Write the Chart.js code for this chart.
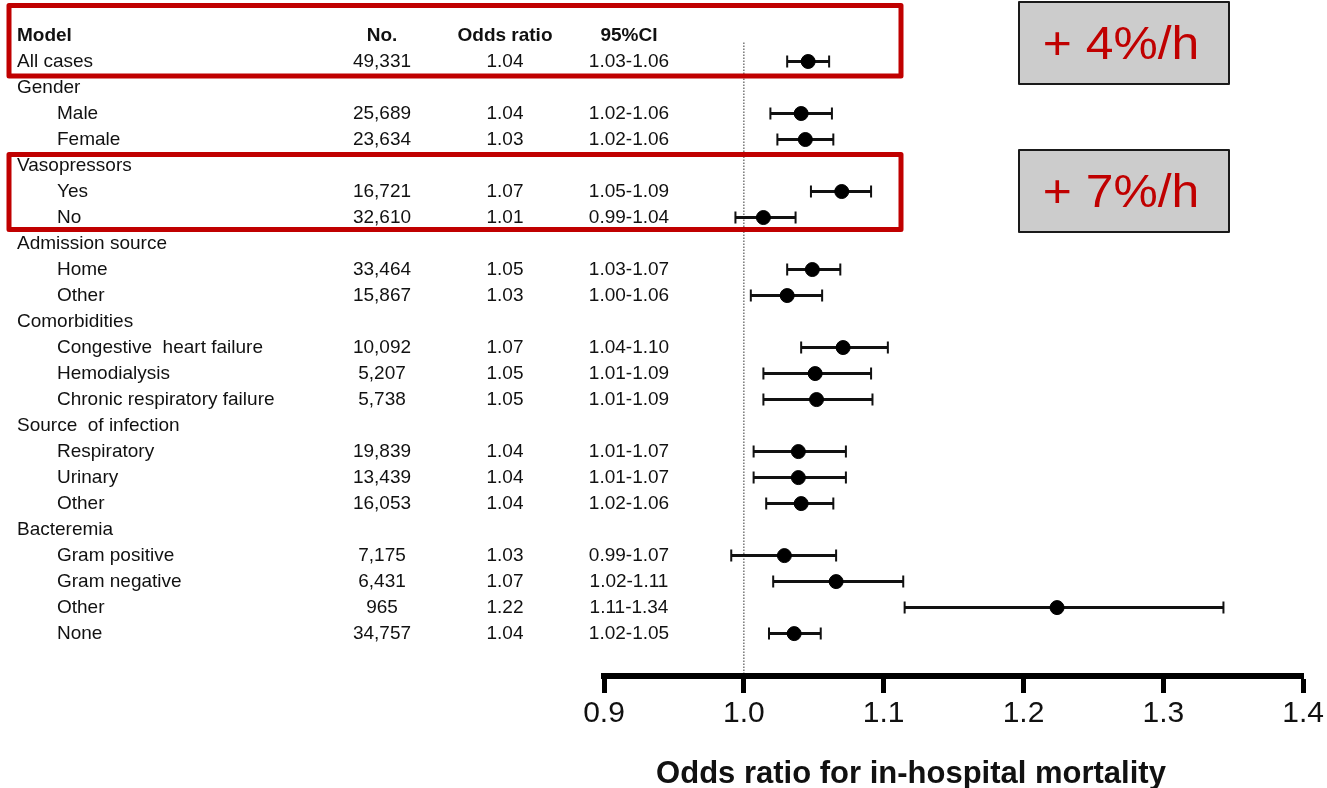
<!DOCTYPE html>
<html lang="en">
  <head>
    <meta charset="UTF-8" />
    <title>Odds ratio for in-hospital mortality</title>
    <style>
      body {
        margin: 0;
        padding: 0;
        background: #fff;
      }
      .chart {
        width: 1327px;
        height: 788px;
      }
    </style>
    <script src="https://cdn.jsdelivr.net/npm/chart.js"></script>
  </head>
  <body>
    <div class="chart">
      <canvas id="forest" width="1327" height="788"></canvas>
    </div>

    <script>
      // table columns
      const columnHeaders = ['Model', 'No.', 'Odds ratio', '95%CI'];

      // rows, top to bottom (level 0 = group / flush left, 1 = indented)
      const rowLabels = [
        'All cases', 'Gender', 'Male', 'Female', 'Vasopressors', 'Yes', 'No',
        'Admission source', 'Home', 'Other', 'Comorbidities',
        'Congestive  heart failure', 'Hemodialysis', 'Chronic respiratory failure',
        'Source  of infection', 'Respiratory', 'Urinary', 'Other',
        'Bacteremia', 'Gram positive', 'Gram negative', 'Other', 'None'
      ];
      const rowLevel = [0, 0, 1, 1, 0, 1, 1, 0, 1, 1, 0, 1, 1, 1, 0, 1, 1, 1, 0, 1, 1, 1, 1];

      const counts = [
        '49,331', null, '25,689', '23,634', null, '16,721', '32,610',
        null, '33,464', '15,867', null, '10,092', '5,207', '5,738',
        null, '19,839', '13,439', '16,053', null, '7,175', '6,431', '965', '34,757'
      ];
      const oddsText = [
        '1.04', null, '1.04', '1.03', null, '1.07', '1.01',
        null, '1.05', '1.03', null, '1.07', '1.05', '1.05',
        null, '1.04', '1.04', '1.04', null, '1.03', '1.07', '1.22', '1.04'
      ];
      const ciText = [
        '1.03-1.06', null, '1.02-1.06', '1.02-1.06', null, '1.05-1.09', '0.99-1.04',
        null, '1.03-1.07', '1.00-1.06', null, '1.04-1.10', '1.01-1.09', '1.01-1.09',
        null, '1.01-1.07', '1.01-1.07', '1.02-1.06', null, '0.99-1.07', '1.02-1.11', '1.11-1.34', '1.02-1.05'
      ];

      // plotted estimates and interval ends
      const estimate = [
        1.046, null, 1.041, 1.044, null, 1.070, 1.014,
        null, 1.049, 1.031, null, 1.071, 1.051, 1.052,
        null, 1.039, 1.039, 1.041, null, 1.029, 1.066, 1.224, 1.036
      ];
      const ciLow = [
        1.031, null, 1.019, 1.024, null, 1.048, 0.994,
        null, 1.031, 1.005, null, 1.041, 1.014, 1.014,
        null, 1.007, 1.007, 1.016, null, 0.991, 1.021, 1.115, 1.018
      ];
      const ciHigh = [
        1.061, null, 1.063, 1.064, null, 1.091, 1.037,
        null, 1.069, 1.056, null, 1.103, 1.091, 1.092,
        null, 1.073, 1.073, 1.064, null, 1.066, 1.114, 1.343, 1.055
      ];

      const xTicks = [0.9, 1.0, 1.1, 1.2, 1.3, 1.4];
      const xTitle = 'Odds ratio for in-hospital mortality';
      const callouts = ['+ 4%/h', '+ 7%/h'];

      const FONT = '"Liberation Sans", Arial, Helvetica, sans-serif';
      const INK = '#111';
      const RED = '#c00000';

      Chart.defaults.font.family = FONT;

      // row 0 holds the column headers, data rows start at 1
      const points = [];
      estimate.forEach((v, i) => {
        if (v !== null) points.push({ x: v, y: i + 1 });
      });

      // whiskers + dotted line at OR = 1
      const errorBars = {
        id: 'errorBars',
        beforeDatasetsDraw(chart) {
          const { ctx, scales: { x, y }, chartArea } = chart;
          ctx.save();
          // reference line
          const x1 = x.getPixelForValue(1.0);
          ctx.strokeStyle = '#777';
          ctx.lineWidth = 1.5;
          ctx.setLineDash([1.5, 1.5]);
          ctx.beginPath();
          ctx.moveTo(x1, chartArea.top + 20);
          ctx.lineTo(x1, chartArea.bottom - 3);
          ctx.stroke();
          ctx.setLineDash([]);

          ctx.strokeStyle = INK;
          ciLow.forEach((lo, i) => {
            if (lo === null) return;
            const py = y.getPixelForValue(i + 1);
            const a = x.getPixelForValue(lo);
            const b = x.getPixelForValue(ciHigh[i]);
            ctx.lineWidth = 3;
            ctx.beginPath();
            ctx.moveTo(a, py);
            ctx.lineTo(b, py);
            ctx.stroke();
            ctx.lineWidth = 2;
            ctx.beginPath();
            ctx.moveTo(a, py - 6);
            ctx.lineTo(a, py + 6);
            ctx.moveTo(b, py - 6);
            ctx.lineTo(b, py + 6);
            ctx.stroke();
          });
          ctx.restore();
        },
      };

      // left-hand table, drawn on the same row positions
      const table = {
        id: 'table',
        afterDraw(chart) {
          const { ctx, scales: { y } } = chart;
          const colNo = 382, colOr = 505, colCi = 629;
          ctx.save();
          ctx.fillStyle = INK;
          ctx.textBaseline = 'middle';

          let py = y.getPixelForValue(0);
          ctx.font = 'bold 19px ' + FONT;
          ctx.textAlign = 'left';
          ctx.fillText(columnHeaders[0], 17, py);
          ctx.textAlign = 'center';
          ctx.fillText(columnHeaders[1], colNo, py);
          ctx.fillText(columnHeaders[2], colOr, py);
          ctx.fillText(columnHeaders[3], colCi, py);

          ctx.font = '19px ' + FONT;
          rowLabels.forEach((label, i) => {
            py = y.getPixelForValue(i + 1);
            ctx.textAlign = 'left';
            ctx.fillText(label, rowLevel[i] ? 57 : 17, py);
            if (counts[i] === null) return;
            ctx.textAlign = 'center';
            ctx.fillText(counts[i], colNo, py);
            ctx.fillText(oddsText[i], colOr, py);
            ctx.fillText(ciText[i], colCi, py);
          });

          // axis title sits left of the axis centre in the original
          ctx.font = 'bold 31px ' + FONT;
          ctx.textAlign = 'center';
          ctx.textBaseline = 'alphabetic';
          ctx.fillText(xTitle, 911, 783);
          ctx.restore();
        },
      };

      // red highlight frames and grey call-out boxes
      const highlights = {
        id: 'highlights',
        afterDraw(chart) {
          const { ctx } = chart;
          ctx.save();
          ctx.strokeStyle = RED;
          ctx.lineWidth = 5;
          ctx.lineJoin = 'round';
          ctx.strokeRect(9, 5.5, 892, 70.5);
          ctx.strokeRect(9, 154.5, 892, 75);

          const boxes = [
            [1019, 2, 210, 82],
            [1019, 150, 210, 82],
          ];
          boxes.forEach(([bx, by, bw, bh], i) => {
            ctx.fillStyle = '#cccccc';
            ctx.fillRect(bx, by, bw, bh);
            ctx.strokeStyle = '#1a1a1a';
            ctx.lineWidth = 2;
            ctx.strokeRect(bx, by, bw, bh);
            ctx.save();
            ctx.translate(bx + bw / 2 - 3, by + bh / 2 + 3);
            ctx.scale(1.06, 1);
            ctx.fillStyle = RED;
            ctx.font = '47px ' + FONT;
            ctx.textAlign = 'center';
            ctx.textBaseline = 'middle';
            ctx.fillText(callouts[i], 0, 0);
            ctx.restore();
          });
          ctx.restore();
        },
      };

      new Chart(document.getElementById('forest'), {
        type: 'scatter',
        data: {
          datasets: [
            {
              data: points,
              backgroundColor: '#000',
              borderColor: '#000',
              pointRadius: 7,
              pointHoverRadius: 7,
            },
          ],
        },
        options: {
          responsive: false,
          animation: false,
          layout: { padding: { left: 604, right: 23, top: 22.5, bottom: 0 } },
          plugins: { legend: { display: false }, tooltip: { enabled: false } },
          scales: {
            x: {
              type: 'linear',
              position: 'bottom',
              min: xTicks[0],
              max: xTicks[xTicks.length - 1],
              afterBuildTicks: (scale) => {
                scale.ticks = xTicks.map((v) => ({ value: v }));
              },
              afterFit: (scale) => {
                scale.height = 112;
              },
              border: { color: '#000', width: 6 },
              grid: {
                drawOnChartArea: false,
                tickLength: 17,
                tickWidth: 5,
                tickColor: '#000',
              },
              ticks: {
                color: INK,
                padding: 3,
                font: { size: 30 },
                callback: (v) => Number(v).toFixed(1),
              },
            },
            y: {
              type: 'linear',
              reverse: true,
              min: -0.5,
              max: 24.63,
              display: false,
            },
          },
        },
        plugins: [errorBars, table, highlights],
      });
    </script>
  </body>
</html>
